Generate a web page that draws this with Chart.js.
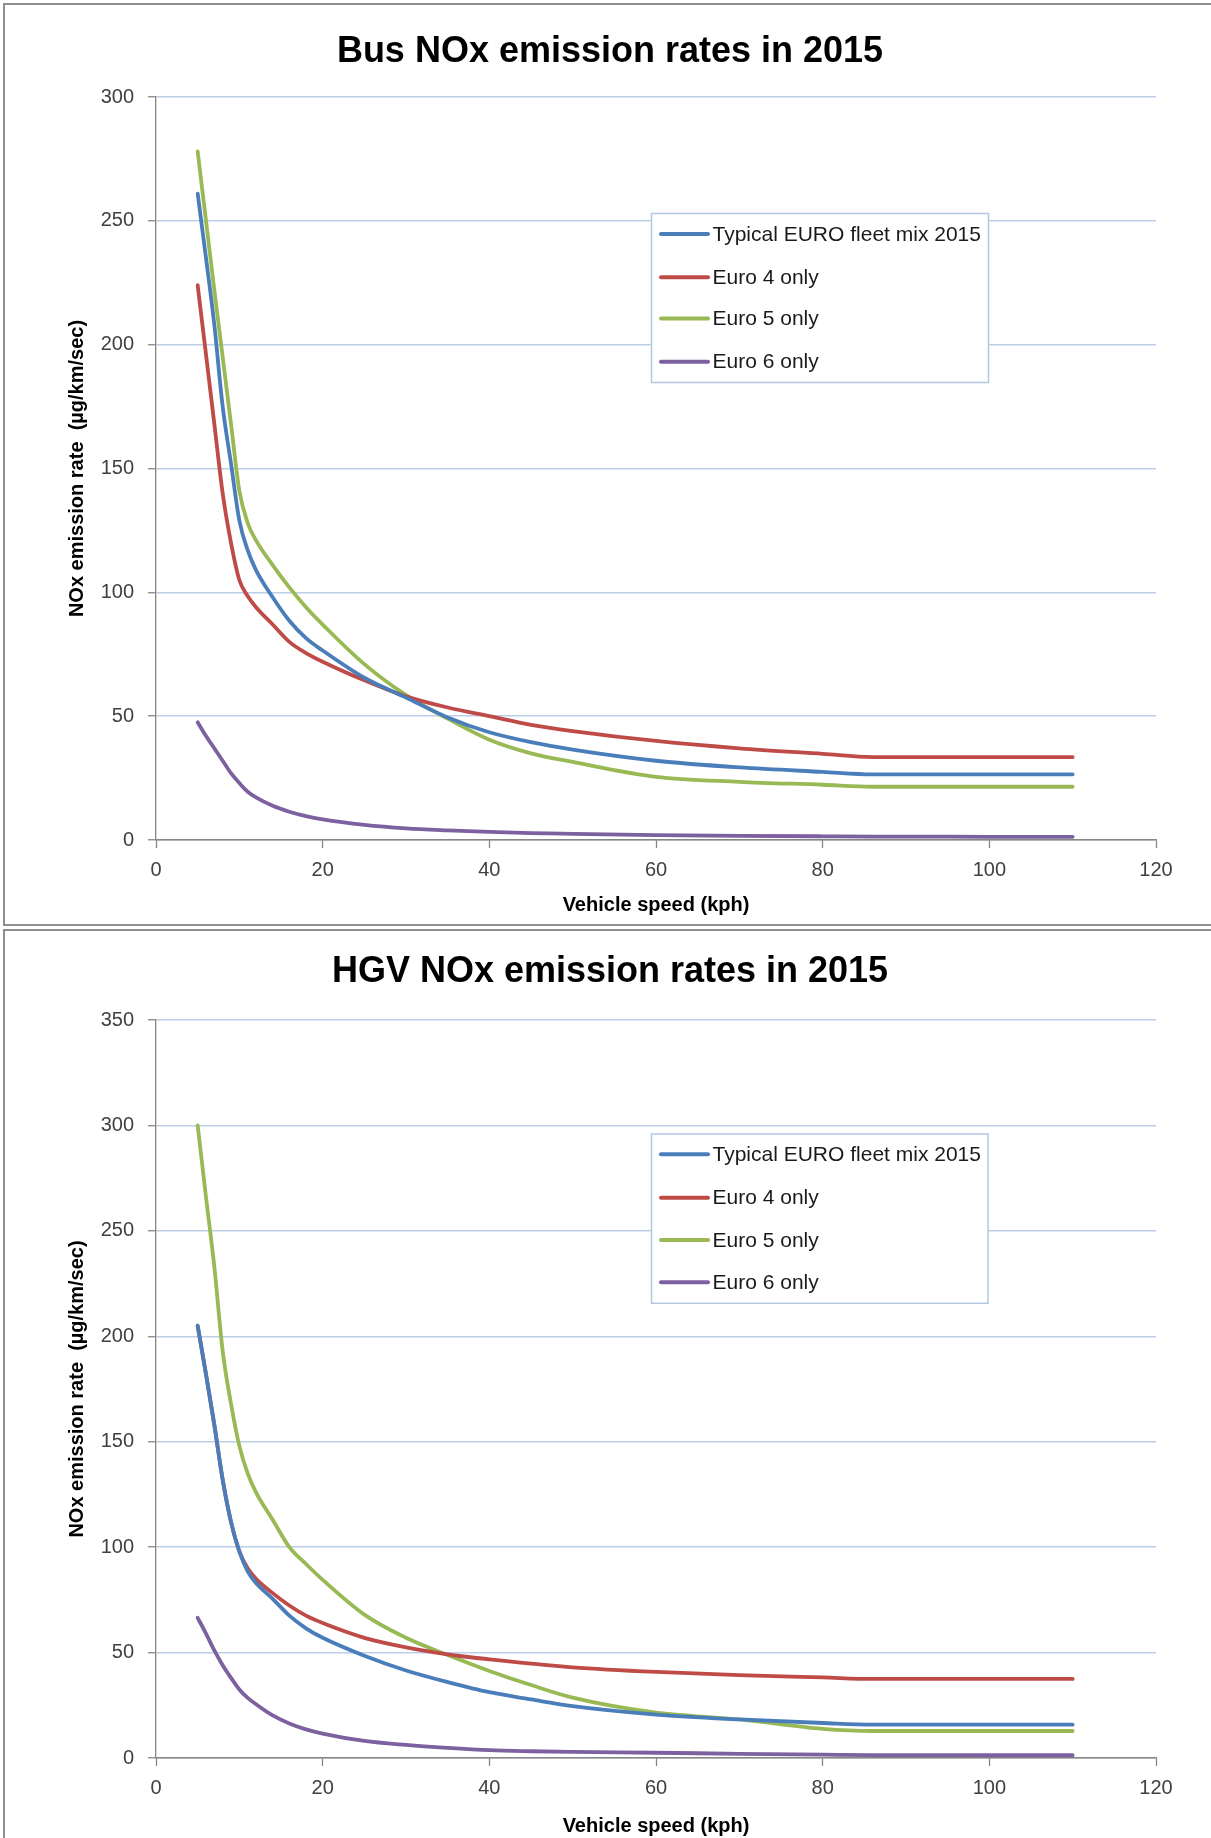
<!DOCTYPE html>
<html><head><meta charset="utf-8">
<script src="https://cdn.jsdelivr.net/npm/chart.js@4.4.1/dist/chart.umd.min.js"></script>
<style>
html,body{margin:0;padding:0;background:#fff;width:1211px;height:1838px;overflow:hidden;position:relative;}
.frame{position:absolute;border:2px solid #8e8e8e;background:#fff;box-sizing:border-box;}
#f1{left:3px;top:3px;width:1240px;height:923px;}
#f2{left:3px;top:929px;width:1240px;height:920px;}
.wrap{position:absolute;left:0;}
#w1{top:0;width:1211px;height:926px;}
#w2{top:932px;width:1211px;height:906px;}
canvas{display:block;}
</style></head>
<body>
<div class="frame" id="f1"></div>
<div class="frame" id="f2"></div>
<div class="wrap" id="w1"><canvas id="c1" width="1211" height="926"></canvas></div>
<div class="wrap" id="w2"><canvas id="c2" width="1211" height="906"></canvas></div>
<script>
// ---- data ----
const speeds = [5,6,7,8,9,10,11,12,14,16,18,20,25,30,35,40,45,50,60,70,80,86,90,100,110];
const seriesNames = ['Typical EURO fleet mix 2015','Euro 4 only','Euro 5 only','Euro 6 only'];
const seriesColors = ['#4a7ebb','#be4b48','#98b954','#7d60a0'];

const busTitle = 'Bus NOx emission rates in 2015';
const busFleet = [261,235,208,175,152,129,117,109,98,88.5,81.5,76.5,65.5,57.5,49.5,43.5,39.5,36.5,32,29.3,27.5,26.5,26.5,26.5,26.5];
const busEuro4 = [224,196,168,140,120,105,98.5,94,87,80,75.5,72,64.5,58,53.5,50,46.5,44,40,37,34.8,33.5,33.5,33.5,33.5];
const busEuro5 = [278,250,222,195,168,141,128,121,111,102,94,87,71,58.5,49,40.5,35,31.5,25.5,23.5,22.3,21.5,21.5,21.5,21.5];
const busEuro6 = [47.5,42,37,32,27,23,19.5,17.2,13.8,11.4,9.6,8.3,6.1,4.7,3.9,3.3,2.8,2.5,2.0,1.7,1.5,1.4,1.4,1.3,1.3];
const busYTicks = [0,50,100,150,200,250,300];

const hgvTitle = 'HGV NOx emission rates in 2015';
const hgvFleet = [205,182,158,132,112,98,88.5,83,75.5,67.5,61.5,57,48.5,41.5,36,31.2,27.8,24.6,20.6,18.3,16.6,15.8,15.8,15.8,15.8];
const hgvEuro4 = [205,182,158,132,112,98,90,85,78.2,72.3,67.5,64,57,52.5,49.2,46.8,44.8,43,40.8,39.3,38.2,37.5,37.5,37.5,37.5];
const hgvEuro5 = [300,266,233,193,168,148,135,126,113,100,92,84.5,68,57,48.8,41.3,34.6,28.6,21.5,18.3,13.8,12.8,12.8,12.8,12.8];
const hgvEuro6 = [66.5,59,51,44,38,32.5,28.5,25.5,20.2,16.4,13.6,11.6,8.1,6.2,4.8,3.7,3.2,2.9,2.5,2.0,1.6,1.4,1.4,1.3,1.3];
const hgvYTicks = [0,50,100,150,200,250,300,350];

const xTicks = [0,20,40,60,80,100,120];
const xTitle = 'Vehicle speed (kph)';
const yTitle = 'NOx emission rate  (\u00b5g/km/sec)';

// ---- styling ----
const FONT = "'Liberation Sans', Arial, sans-serif";
const GRID = '#bccfe9';
const AXIS = '#868686';

const boxLegend = {
  id: 'boxLegend',
  afterDatasetsDraw(chart, args, o) {
    const ctx = chart.ctx;
    ctx.save();
    ctx.fillStyle = '#fff';
    ctx.fillRect(o.left, o.top, o.right - o.left, o.bottom - o.top);
    ctx.strokeStyle = '#b3c7e3';
    ctx.lineWidth = 1.5;
    ctx.strokeRect(o.left, o.top, o.right - o.left, o.bottom - o.top);
    chart.data.datasets.forEach((ds, i) => {
      const y = o.rows[i];
      ctx.strokeStyle = ds.borderColor;
      ctx.lineWidth = 4;
      ctx.lineCap = 'round';
      ctx.beginPath();
      ctx.moveTo(o.lx1, y); ctx.lineTo(o.lx2, y); ctx.stroke();
      ctx.fillStyle = '#1a1a1a';
      ctx.font = '21px ' + FONT;
      ctx.textBaseline = 'middle';
      ctx.textAlign = 'left';
      ctx.fillText(ds.label, o.tx, y + 1);
    });
    ctx.restore();
  }
};

function makeChart(id, title, series, yTicks, geo) {
  const datasets = series.map((vals, i) => ({
    label: seriesNames[i],
    data: speeds.map((s, k) => ({x: s, y: vals[k]})),
    borderColor: seriesColors[i],
    backgroundColor: seriesColors[i],
    borderWidth: 3.8,
    pointRadius: 0,
    cubicInterpolationMode: 'monotone',
    borderCapStyle: 'round',
    fill: false
  }));
  return new Chart(document.getElementById(id), {
    type: 'line',
    data: {datasets},
    plugins: [boxLegend],
    options: {
      responsive: false,
      animation: false,
      layout: {padding: {left: 64, right: 55, top: 0, bottom: 0}},
      plugins: {
        legend: {display: false},
        tooltip: {enabled: false},
        title: {
          display: true, text: title, color: '#000',
          font: {family: FONT, size: 36, weight: 'bold', lineHeight: 1.2},
          padding: {top: geo.tTop, bottom: geo.tBot}
        },
        boxLegend: geo.legend
      },
      scales: {
        x: {
          type: 'linear', min: 0, max: 120,
          afterBuildTicks(s) { s.ticks = xTicks.map(v => ({value: v})); },
          afterFit(s) { s.height = geo.xH; },
          ticks: {color: '#404040', font: {family: FONT, size: 20}, padding: 10},
          grid: {drawOnChartArea: false, drawTicks: true, tickLength: 8, tickColor: AXIS, tickWidth: 1.3, color: AXIS},
          border: {color: AXIS, width: 1.3},
          title: {display: true, text: xTitle, color: '#000',
                  font: {family: FONT, size: 20, weight: 'bold', lineHeight: geo.xLH},
                  padding: {top: 0, bottom: geo.xTB}}
        },
        y: {
          type: 'linear', min: 0, max: yTicks[yTicks.length - 1],
          afterBuildTicks(s) { s.ticks = yTicks.map(v => ({value: v})); },
          afterFit(s) { s.width = 92; },
          ticks: {color: '#404040', font: {family: FONT, size: 20}, padding: 14},
          grid: {
            color: c => (c.tick && c.tick.value === 0) ? AXIS : GRID,
            lineWidth: 1.5, tickLength: 8, tickColor: AXIS, tickWidth: 1.3
          },
          border: {color: AXIS, width: 1.3},
          title: {display: true, text: yTitle, color: '#000',
                  font: {family: FONT, size: 20, weight: 'bold', lineHeight: 1.2},
                  padding: {top: 1, bottom: 0}}
        }
      }
    }
  });
}

makeChart('c1', busTitle, [busFleet, busEuro4, busEuro5, busEuro6], busYTicks, {
  tTop: 30, tBot: 23.8, xH: 86, xTB: 9, xLH: 1.2,
  legend: {left: 651.5, top: 213.5, right: 988.5, bottom: 382.5,
           rows: [234, 277.3, 318.5, 361.7], lx1: 661, lx2: 708, tx: 712.5}
});
makeChart('c2', hgvTitle, [hgvFleet, hgvEuro4, hgvEuro5, hgvEuro6], hgvYTicks, {
  tTop: 18.4, tBot: 26.4, xH: 80, xTB: 2, xLH: 1.0,
  legend: {left: 651.5, top: 202, right: 988, bottom: 371.3,
           rows: [222.3, 265.7, 308, 350.3], lx1: 661, lx2: 708, tx: 712.5}
});
</script>
</body></html>
